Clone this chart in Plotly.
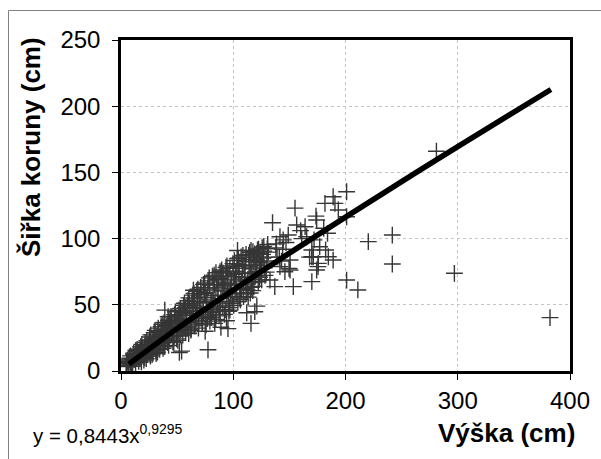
import plotly.graph_objects as go

# Scatter data: height (Výška, cm) and crown width (Šiřka koruny, cm)
vyska_band = [
    5, 5.7, 4.6, 6.2, 5.3,
    7, 7.8, 6.5, 8.3, 7.2,
    9, 9.6, 8.5, 10.1, 9.3,
    11, 11.8, 10.4, 12.2, 11.3,
    13, 13.5, 12.6, 14.1, 13.2,
    15, 15.8, 14.4, 16.3, 15.4,
    17, 17.6, 16.5, 18.2, 17.3,
    19, 19.7, 18.6, 20.4, 19.2,
    21, 21.5, 20.7, 22.3, 21.4,
    23, 23.8, 22.5, 24.1, 23.3,
    25, 25.6, 24.4, 26.2, 25.3,
    27, 27.7, 26.5, 28.3, 27.2,
    29, 29.5, 28.6, 30.2, 29.4,
    31, 31.8, 30.4, 32.2, 31.3,
    33, 33.6, 32.5, 34.3, 33.2,
    35, 35.7, 34.4, 36.1, 35.3,
    37, 37.5, 36.6, 38.3, 37.2,
    39, 39.8, 38.4, 40.2, 39.3,
    41, 41.6, 40.5, 42.3, 41.2,
    43, 43.7, 42.4, 44.1, 43.3,
    45, 45.5, 44.6, 46.2, 45.4,
    47, 47.8, 46.5, 48.3, 47.2,
    49, 49.6, 48.4, 50.1, 49.3,
    51, 51.7, 50.6, 52.2, 51.4,
    53, 53.5, 52.5, 54.3, 53.2,
    55, 55.8, 54.4, 56.2, 55.3,
    57, 57.6, 56.5, 58.1, 57.4,
    59, 59.7, 58.6, 60.3, 59.2,
    61, 61.5, 60.4, 62.2, 61.3,
    63, 63.8, 62.5, 64.1, 63.2,
    65, 65.6, 64.4, 66.3, 65.4,
    67, 67.5, 66.6, 68.2, 67.3,
    69, 69.7, 68.5, 70.1, 69.2,
    71, 71.6, 70.4, 72.3, 71.3,
    73, 73.5, 72.6, 74.2, 73.4,
    75, 75.8, 74.5, 76.1, 75.2,
    77, 77.6, 76.4, 78.3, 77.3,
    79, 79.7, 78.6, 80.2, 79.2,
    81, 81.5, 80.5, 82.1, 81.4,
    83, 83.8, 82.4, 84.3, 83.2,
    85, 85.6, 84.6, 86.2, 85.3,
    87, 87.5, 86.5, 88.3, 87.4,
    89, 89.7, 88.4, 90.1, 89.2,
    91, 91.6, 90.6, 92.2, 91.3,
    93, 93.5, 92.5, 94.3, 93.4,
    95, 95.8, 94.4, 96.1, 95.2,
    97, 97.6, 96.5, 98.2, 97.3,
    99, 99.7, 98.6, 100.3, 99.2,
    101, 101.6, 100.4, 102.2, 101.3,
    103, 103.5, 102.6, 104.1, 103.4,
    105, 105.8, 104.5, 106.3, 105.2,
    107, 107.6, 106.4, 108.2, 107.3,
    109, 109.7, 108.6, 110.1, 109.2,
    111, 111.5, 110.5, 112.3, 111.4,
    113, 113.8, 112.4, 114.2, 113.3,
    115, 115.6, 114.6, 116.3, 115.2,
    117, 117.5, 116.5, 118.1, 117.4,
    119, 119.7, 118.4, 120.2, 119.3,
    121, 121.6, 120.6, 122.3, 121.2,
    123, 123.5, 122.5, 124.1, 123.4,
    125, 125.8, 124.4, 126.2, 125.3,
    127, 127.6, 126.5, 128.3, 127.2,
    130, 130.7, 129.4, 131.2, 130.3,
]
sirka_band = [
    5.5, 8.2, 3.4, 7.1, 6.3,
    4.1, 9.6, 6.8, 5.2, 8.4,
    7.3, 3.6, 11.4, 9.1, 5.9,
    12.6, 8.7, 5.1, 10.2, 13.5,
    6.4, 14.8, 11.2, 9.3, 15.6,
    13.1, 7.2, 16.4, 10.5, 12.0,
    9.4, 18.3, 14.7, 6.9, 12.2,
    16.8, 11.3, 20.1, 8.2, 14.5,
    10.1, 21.6, 17.4, 13.8, 19.2,
    22.9, 15.2, 9.3, 19.6, 12.4,
    14.1, 25.7, 20.3, 11.2, 23.5,
    18.6, 12.4, 27.3, 22.1, 16.0,
    24.8, 28.9, 13.5, 20.2, 17.1,
    15.3, 26.4, 30.7, 21.5, 13.2,
    29.6, 19.1, 14.2, 25.3, 32.4,
    22.8, 33.5, 16.4, 27.9, 19.7,
    30.1, 17.2, 35.3, 24.6, 21.3,
    18.4, 27.1, 36.6, 31.3, 23.8,
    34.2, 21.5, 26.8, 38.1, 29.4,
    25.6, 39.2, 19.3, 32.7, 36.0,
    37.4, 28.8, 41.2, 22.1, 33.5,
    21.7, 42.6, 31.4, 38.3, 26.2,
    40.1, 24.3, 44.7, 34.6, 29.8,
    30.7, 45.9, 23.1, 37.2, 41.8,
    47.3, 35.8, 26.4, 42.1, 31.5,
    27.2, 49.6, 38.9, 33.1, 44.4,
    43.5, 29.4, 51.2, 36.7, 47.8,
    33.2, 53.1, 41.9, 28.3, 48.4,
    50.6, 37.4, 55.2, 30.8, 44.9,
    39.5, 57.3, 31.6, 47.2, 52.8,
    58.6, 34.1, 49.7, 43.3, 54.5,
    45.8, 60.2, 35.5, 52.4, 40.1,
    32.4, 55.9, 61.8, 47.6, 38.2,
    63.1, 42.7, 51.3, 35.9, 57.6,
    48.2, 65.4, 37.1, 59.3, 44.6,
    58.7, 34.8, 66.5, 51.9, 41.3,
    39.6, 68.1, 55.3, 46.4, 62.8,
    64.9, 44.2, 70.3, 53.6, 37.7,
    52.1, 71.6, 40.3, 61.2, 47.5,
    72.4, 56.8, 45.1, 38.9, 65.3,
    42.6, 62.7, 74.2, 51.4, 68.9,
    69.8, 48.3, 57.2, 75.1, 41.6,
    54.7, 76.3, 44.9, 63.5, 71.2,
    73.9, 60.4, 49.2, 42.8, 67.1,
    46.3, 78.2, 64.8, 55.9, 71.7,
    66.2, 52.7, 79.4, 45.1, 74.8,
    77.6, 58.3, 47.9, 69.4, 62.1,
    51.2, 81.1, 65.7, 72.9, 56.4,
    83.4, 61.8, 49.5, 75.3, 68.6,
    58.9, 84.7, 71.2, 52.3, 78.8,
    73.6, 55.1, 85.2, 64.9, 80.4,
    86.1, 67.3, 53.8, 77.5, 61.4,
    62.5, 79.8, 87.3, 70.6, 56.2,
    82.9, 58.4, 74.1, 65.7, 88.1,
    69.2, 87.5, 61.3, 78.6, 55.8,
    84.3, 73.7, 89.6, 63.2, 58.9,
    66.8, 90.2, 77.1, 82.5, 60.7,
    88.4, 71.6, 63.9, 80.1, 85.7,
    75.3, 91.5, 83.7, 67.4, 88.9,
    86.2, 70.8, 92.1, 79.5, 82.3,
    81.7, 93.2, 74.6, 88.1, 68.9,
    90.4, 77.9, 85.3, 72.2, 94.1,
    83.1, 95.6, 74.7, 89.8, 92.3,
]

vyska_sparse = [
    39, 42, 52, 54, 64.5, 75, 77.5, 83.5, 89, 94, 95.3, 97, 103.8, 112,
    115.8, 115.8, 119.2, 121, 123.8, 132.7, 135, 137,
    138, 138.5, 139, 141.6, 141, 141.6, 144.5, 144, 143, 149, 147, 146,
    150.6, 150.6, 149.7, 153.5, 155, 156.5, 160, 161, 164, 165.4,
    170, 170, 170, 168, 172, 173.7, 174.3, 171.3, 175.8, 174.3, 177, 175.5,
    180.6, 181.7, 184, 182.3, 184.7, 189, 189, 190.6, 193.6,
    201, 201, 201, 211, 220.3, 241.7, 241.7, 281, 297, 382.2,
]
sirka_sparse = [
    46, 41, 14, 15, 61, 30, 16, 36, 33, 38, 32, 46, 91, 44,
    91, 36, 44.8, 49, 89, 68.7, 112, 63.7,
    93, 96, 86, 101.4, 86, 78.8, 99, 92, 83, 102.7, 97, 75,
    83.8, 76.3, 77.5, 63.7, 123, 110.3, 106, 100, 109, 101.4,
    91.4, 86.3, 67.5, 86, 99, 117, 114, 86.3, 81.3, 76.3, 93.9, 78.8,
    107.8, 126.6, 104, 91.4, 86.3, 83.8, 131.6, 126.6, 121.6,
    135.4, 116.5, 68.7, 61.2, 97.7, 102.7, 80.8, 166, 73.8, 40.3,
]

# Power trend line y = 0,8443x^0,9295
trend_x = [7, 50, 100, 150, 200, 250, 300, 383]
trend_y = [5.2, 32.0, 61.1, 89.0, 116.2, 143.0, 169.5, 212.6]

x_ticks = [0, 100, 200, 300, 400]
y_ticks = [0, 50, 100, 150, 200, 250]

FONT = "Liberation Sans, Arial, sans-serif"

fig = go.Figure()
fig.add_trace(go.Scatter(
    x=vyska_band + vyska_sparse, y=sirka_band + sirka_sparse, mode="markers",
    marker=dict(symbol="cross-thin", size=12,
                line=dict(color="#363636", width=1.4), color="#363636"),
    showlegend=False, cliponaxis=True,
))
fig.add_trace(go.Scatter(
    x=trend_x, y=trend_y, mode="lines",
    line=dict(color="black", width=5.5, shape="spline"),
    showlegend=False,
))

L, R, T, B = 121, 31, 40, 88
W, H = 601, 459
pw, ph = W - L - R, H - T - B

def px(xp):
    return (xp - L) / pw

def py(yp):
    return (H - B - yp) / ph

axis_common = dict(
    showline=True, linecolor="black", linewidth=2.5, mirror=True,
    ticks="outside", ticklen=6, tickwidth=1, tickcolor="black",
    showgrid=True, gridcolor="#c4c4c4", griddash="dot", gridwidth=1,
    zeroline=False,
    tickfont=dict(family=FONT, size=24, color="black"),
)

fig.update_layout(
    width=W, height=H,
    margin=dict(l=L, r=R, t=T, b=B),
    paper_bgcolor="white", plot_bgcolor="white",
    xaxis=dict(range=[0, 400], tickvals=x_ticks, **axis_common),
    yaxis=dict(range=[0, 250], tickvals=y_ticks, ticklabelstandoff=7, **axis_common),
    shapes=[dict(type="rect", xref="paper", yref="paper",
                 x0=px(8.5), x1=px(606), y0=py(466), y1=py(10.5),
                 line=dict(color="#808080", width=1), layer="below")],
    annotations=[
        dict(text="<b>Výška (cm)</b>", xref="paper", yref="paper",
             x=px(577), y=py(433), xanchor="right", yanchor="middle",
             showarrow=False, font=dict(family=FONT, size=26, color="black")),
        dict(text="<b>Šiřka koruny (cm)</b>", xref="paper", yref="paper",
             x=px(31), y=py(147), xanchor="center", yanchor="middle",
             textangle=-90, showarrow=False,
             font=dict(family=FONT, size=26, color="black")),
        dict(text="y = 0,8443x<sup><span style=\"font-size:14px\">0,9295</span></sup>",
             xref="paper", yref="paper",
             x=px(31), y=py(434), xanchor="left", yanchor="middle",
             showarrow=False, font=dict(family=FONT, size=20.5, color="black")),
    ],
)

fig.write_html("out.html")
